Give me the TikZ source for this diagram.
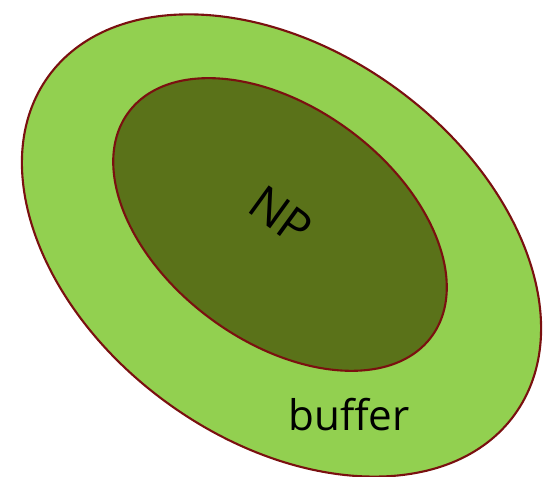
\documentclass[tikz,border=0pt]{standalone}
\usepackage{fontspec}
\setmainfont{Open Sans}
\usetikzlibrary{positioning}
\definecolor{bufgreen}{HTML}{92D050}
\definecolor{npgreen}{HTML}{5A7219}
\definecolor{rimred}{HTML}{7A1010}

\begin{document}
\begin{tikzpicture}[scale=1]
        % Define styles
        \tikzset{
            zone/.style={draw=rimred, line width=1.2pt},
            label/.style={font=\fontsize{24}{28}\selectfont, text=black}
        }
        % Fix the page size
        \useasboundingbox (0,0) rectangle (10.86,9.54);
        % Outer buffer zone
        \draw[zone, fill=bufgreen] (5.63,4.63) ellipse [x radius=5.76, y radius=3.89, rotate=-36];
        % Inner NP zone
        \draw[zone, fill=npgreen] (5.6,5.05) ellipse [x radius=3.77, y radius=2.34, rotate=-36.5];
        % Labels
        \node[label, font=\fontsize{27}{30}\selectfont, rotate=-36] (np) at (5.62,5.22) {NP};
        \node[label] (buffer) at (6.98,1.24) {buffer};
    \end{tikzpicture}
\end{document}
